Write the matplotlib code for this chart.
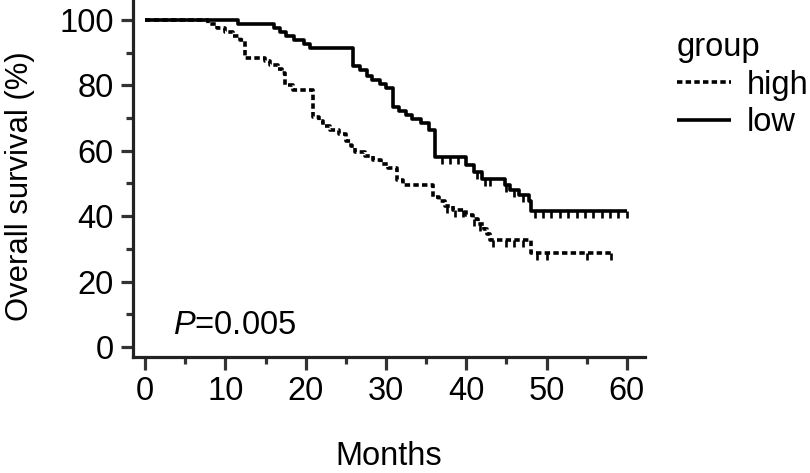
import numpy as np
import matplotlib
matplotlib.use("Agg")
import matplotlib.pyplot as plt

plt.rcParams['font.family'] = ['Liberation Sans', 'DejaVu Sans']
plt.rcParams['mathtext.fontset'] = 'custom'
plt.rcParams['mathtext.it'] = 'Liberation Sans:italic'
plt.rcParams['mathtext.rm'] = 'Liberation Sans'

# ---- data ----
low_t = [0, 11.6, 16.0, 16.8, 17.6, 18.6, 19.8, 20.6, 25.9, 26.8, 27.6, 28.2, 29.2, 30.0,
         30.9, 31.6, 32.5, 33.3, 34.3, 35.3, 36.1, 40.0, 41.0, 42.0, 44.8, 45.5, 46.5, 47.8, 48.0]
low_s = [100, 98.8, 97.5, 96.3, 95.1, 93.9, 92.7, 91.5, 86.0, 84.8, 83.0, 81.6, 80.4, 79.2,
         73.5, 72.3, 71.0, 69.8, 68.5, 66.5, 58.0, 55.5, 53.5, 51.5, 49.5, 48.0, 46.5, 44.5, 41.5]
low_end = 60.0
low_censor = [37.0, 38.0, 39.0, 41.3, 42.3, 43.0, 45.0, 46.0, 47.0, 48.5, 49.5, 50.6, 51.7,
              52.7, 53.8, 54.8, 55.8, 56.9, 57.9, 58.9, 60.0]

high_t = [0, 7.8, 9.0, 10.0, 11.0, 11.8, 12.5, 14.9, 15.6, 16.5, 17.0, 17.4, 18.4, 20.9, 21.6,
          22.2, 23.0, 24.2, 25.0, 25.6, 26.2, 27.4, 28.4, 29.4, 30.3, 31.4, 32.1, 35.9, 36.6,
          37.4, 38.3, 40.0, 40.8, 41.5, 42.2, 42.6, 43.0, 48.0]
high_s = [100, 98.8, 97.6, 96.4, 95.2, 93.8, 88.5, 87.3, 86.1, 84.9, 83.7, 80.0, 78.6, 70.3, 69.0,
          67.7, 66.4, 65.2, 63.0, 61.5, 59.6, 58.4, 57.2, 56.0, 54.7, 51.0, 49.5, 46.0, 44.6,
          43.2, 42.0, 40.5, 39.0, 37.5, 36.0, 34.5, 32.7, 28.7]
high_end = 58.0
high_censor = [37.6, 38.6, 39.6, 41.0, 41.7, 43.3, 45.0, 46.0, 47.0, 48.8, 50.0, 55.0, 58.0]

x_ticks = [0, 10, 20, 30, 40, 50, 60]
y_ticks = [0, 20, 40, 60, 80, 100]
p_text = r"$\mathit{P}$=0.005"

FS = 23.5

# ---- figure ----
fig = plt.figure(figsize=(8.10, 4.73), dpi=100)
ax = fig.add_axes([133/810, 1 - 357/473, (645 - 133)/810, 357/473])

def surv_at(ts, ss, t):
    i = np.searchsorted(np.asarray(ts), t, side='right') - 1
    return np.asarray(ss)[i]

lw = 2.6
dash = (0, (1.5, 0.9))

for ts, ss, tend, cens, ls, lab in [
        (high_t, high_s, high_end, high_censor, dash, 'high'),
        (low_t, low_s, low_end, low_censor, '-', 'low')]:
    xx = list(ts) + [tend]
    yy = list(ss) + [ss[-1]]
    ax.step(xx, yy, where='post', color='black', lw=lw, linestyle=ls, label=lab,
            solid_capstyle='butt', dash_capstyle='butt')
    cy = [surv_at(ts, ss, c) for c in cens]
    ax.plot(cens, cy, linestyle='none', marker=3, markersize=5, mew=1.9, color='black')

ax.set_xlim(-1.5, 62.25)
ax.set_ylim(-3.06, 106.1)

for s in ['top', 'right']:
    ax.spines[s].set_visible(False)
for s in ['left', 'bottom']:
    ax.spines[s].set_linewidth(2.3)
    ax.spines[s].set_color('#222222')

ax.set_xticks(x_ticks)
ax.set_yticks(y_ticks)
ax.set_xticks([5, 15, 25, 35, 45, 55], minor=True)
ax.set_yticks([10, 30, 50, 70, 90], minor=True)
ax.tick_params(which='major', length=9, width=2.3, color='#333333', labelsize=FS, pad=5)
ax.tick_params(which='minor', length=5, width=2.3, color='#333333')
ax.tick_params(axis='y', which='major', pad=5)

ax.set_xlabel('Months', fontsize=FS)
ax.xaxis.set_label_coords(0.5, -0.235)
ax.set_ylabel('Overall survival (%)', fontsize=22.3)
ax.yaxis.set_label_coords(-0.192, 0.479)

ax.text(3.5, 4.0, p_text, fontsize=FS, va='baseline', ha='left')

leg = ax.legend(title='group', loc='upper left', bbox_to_anchor=(677/810, 1 - 32/473),
                bbox_transform=fig.transFigure, frameon=False, fontsize=FS,
                title_fontsize=FS, handlelength=1.65, handletextpad=0.5,
                labelspacing=0.2, borderpad=0, borderaxespad=0, alignment='left')

fig.savefig('out.png', dpi=100)
